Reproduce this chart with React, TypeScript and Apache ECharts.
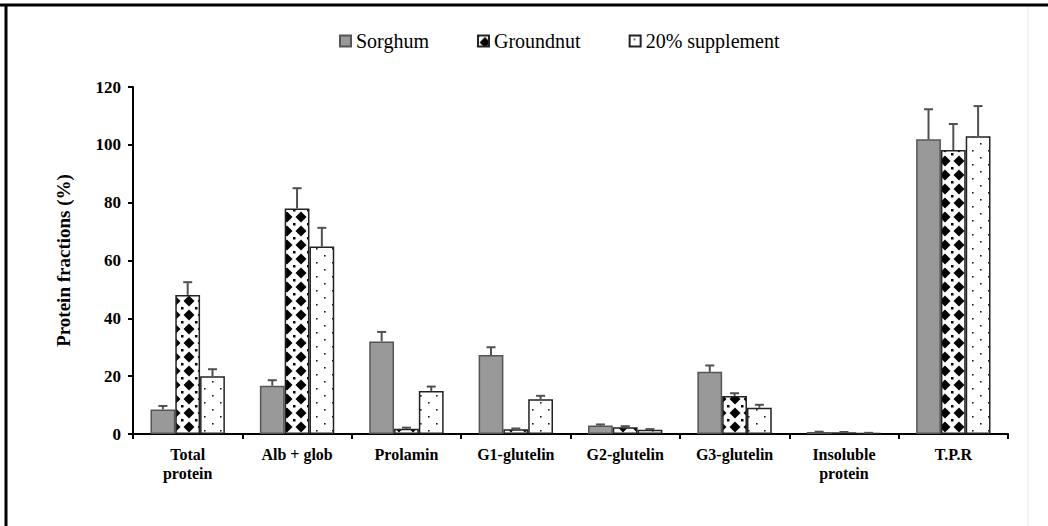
import React, { useEffect, useRef } from "react";
import * as echarts from "echarts";

const categories = [
  "Total\nprotein",
  "Alb + glob",
  "Prolamin",
  "G1-glutelin",
  "G2-glutelin",
  "G3-glutelin",
  "Insoluble\nprotein",
  "T.P.R",
];
const seriesNames = ["Sorghum", "Groundnut", "20% supplement"];
const sorghum = [8.5, 16.7, 32.0, 27.3, 2.9, 21.5, 0.7, 101.9];
const groundnut = [48.1, 78.0, 1.8, 1.6, 2.3, 13.1, 0.6, 98.2];
const supplement = [20.0, 64.8, 14.9, 12.0, 1.5, 9.1, 0.3, 103.0];
const sorghumErr = [1.2, 1.9, 3.3, 2.7, 0.4, 2.2, 0.1, 10.4];
const groundnutErr = [4.4, 7.0, 0.4, 0.3, 0.4, 1.0, 0.1, 9.0];
const supplementErr = [2.4, 6.5, 1.5, 1.2, 0.2, 1.0, 0.1, 10.4];
const yTicks = { min: 0, max: 120, interval: 20 };

const FONT = "'Liberation Serif', 'Times New Roman', serif";
const CAT_GAP = 0.32;

function diamondPattern(): HTMLCanvasElement {
  const c = document.createElement("canvas");
  c.width = 14;
  c.height = 14;
  const g = c.getContext("2d")!;
  g.fillStyle = "#fff";
  g.fillRect(0, 0, 14, 14);
  g.fillStyle = "#000";
  g.beginPath();
  g.moveTo(7, 1.5);
  g.lineTo(12.5, 7);
  g.lineTo(7, 12.5);
  g.lineTo(1.5, 7);
  g.closePath();
  g.fill();
  g.fillRect(0, 0, 1.5, 1.5);
  g.fillRect(13, 0, 1, 1.5);
  g.fillRect(0, 13, 1.5, 1);
  g.fillRect(13, 13, 1, 1);
  return c;
}

function dotPattern(): HTMLCanvasElement {
  const c = document.createElement("canvas");
  c.width = 16;
  c.height = 14;
  const g = c.getContext("2d")!;
  g.fillStyle = "#fff";
  g.fillRect(0, 0, 16, 14);
  g.fillStyle = "#222";
  g.fillRect(4, 3, 1.6, 1.6);
  g.fillRect(12, 10, 1.6, 1.6);
  return c;
}

export default function App() {
  const ref = useRef<HTMLDivElement>(null);
  useEffect(() => {
    if (!ref.current) return;
    const chart = echarts.init(ref.current, null, { renderer: "svg" });
    const dia = diamondPattern();
    const dot = dotPattern();
    const fills: any[] = [
      "#999999",
      { image: dia, repeat: "repeat", imageWidth: 14, imageHeight: 14 },
      { image: dot, repeat: "repeat", imageWidth: 16, imageHeight: 14 },
    ];
    const borders = ["#555", "#222", "#222"];
    const values = [sorghum, groundnut, supplement];
    const errs = [sorghumErr, groundnutErr, supplementErr];

    const barSeries = seriesNames.map((name, i) => ({
      name,
      type: "bar",
      data: values[i],
      barGap: "0%",
      barCategoryGap: CAT_GAP * 100 + "%",
      itemStyle: { color: fills[i], borderColor: borders[i], borderWidth: 1.5 },
      emphasis: { disabled: true },
    }));

    const errData: any[] = [];
    values.forEach((vals, si) =>
      vals.forEach((v, ci) => errData.push([ci, v, v + errs[si][ci], si]))
    );

    const errSeries = {
      type: "custom",
      data: errData,
      z: 5,
      silent: true,
      renderItem: (params: any, api: any) => {
        const ci = api.value(0);
        const v = api.value(1);
        const top = api.value(2);
        const si = api.value(3);
        const band = api.size([1, 0])[0];
        const bw = (band * (1 - CAT_GAP)) / 3;
        const base = api.coord([ci, v]);
        const tp = api.coord([ci, top]);
        const x = base[0] + (si - 1) * bw;
        const style = { stroke: "#505050", lineWidth: 2 };
        return {
          type: "group",
          children: [
            { type: "line", shape: { x1: x, y1: base[1], x2: x, y2: tp[1] }, style },
            { type: "line", shape: { x1: x - 4.5, y1: tp[1], x2: x + 4.5, y2: tp[1] }, style },
          ],
        };
      },
    };

    chart.setOption({
      animation: false,
      backgroundColor: "#fff",
      legend: {
        data: seriesNames,
        top: 26,
        left: 334,
        itemWidth: 11,
        itemHeight: 11,
        itemGap: 48,
        icon: "rect",
        textStyle: { fontFamily: FONT, fontSize: 20, color: "#000" },
      },
      grid: { left: 133, right: 40, top: 87, bottom: 92 },
      xAxis: {
        type: "category",
        data: categories,
        axisLine: { lineStyle: { color: "#000", width: 2 } },
        axisTick: { show: true, length: 5, lineStyle: { color: "#000", width: 2 } },
        axisLabel: {
          fontFamily: FONT,
          fontWeight: "bold",
          fontSize: 16,
          color: "#000",
          margin: 11,
          lineHeight: 19,
          interval: 0,
        },
      },
      yAxis: {
        type: "value",
        min: yTicks.min,
        max: yTicks.max,
        interval: yTicks.interval,
        name: "Protein fractions (%)",
        nameLocation: "middle",
        nameGap: 60,
        nameTextStyle: { fontFamily: FONT, fontWeight: "bold", fontSize: 19, color: "#000" },
        axisLine: { show: true, lineStyle: { color: "#000", width: 2 } },
        axisTick: { show: true, length: 5, lineStyle: { color: "#000", width: 2 } },
        splitLine: { show: false },
        axisLabel: { fontFamily: FONT, fontWeight: "bold", fontSize: 17, color: "#000", margin: 12 },
      },
      graphic: [
        { type: "line", shape: { x1: 0, y1: 5, x2: 1048, y2: 5 }, style: { stroke: "#000", lineWidth: 3 } },
        { type: "line", shape: { x1: 6, y1: 4, x2: 6, y2: 526 }, style: { stroke: "#000", lineWidth: 3 } },
        { type: "line", shape: { x1: 1028, y1: 7, x2: 1028, y2: 526 }, style: { stroke: "#e6e6e6", lineWidth: 1 } },
      ],
      series: [...barSeries, errSeries],
    });
    return () => chart.dispose();
  }, []);
  return <div ref={ref} style={{ width: 1048, height: 526, position: "absolute", left: 0, top: 0 }} />;
}
